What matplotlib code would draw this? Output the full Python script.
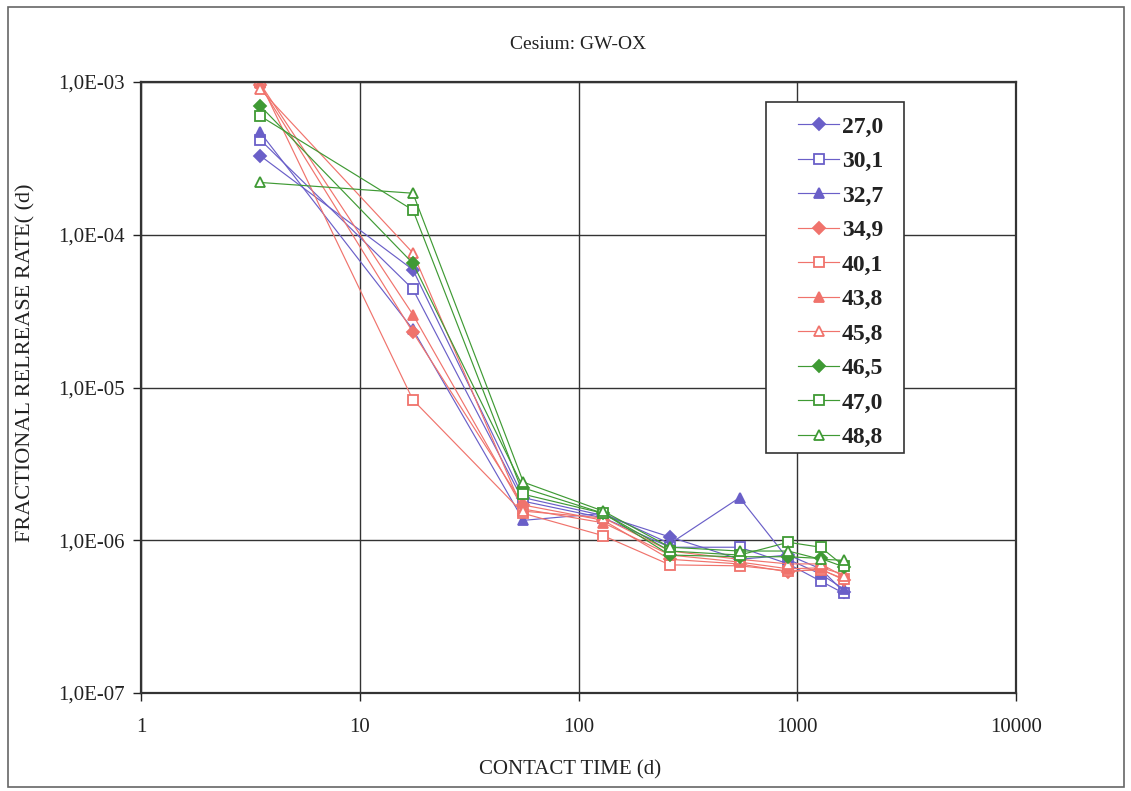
import numpy as np
import matplotlib.pyplot as plt
from matplotlib.patches import Rectangle
from matplotlib.ticker import FixedLocator, NullLocator

# contact times (d), shared by every sample
contact_time = [3.5, 17.5, 56, 130, 262, 545, 910, 1280, 1630]

labels = ['27,0', '30,1', '32,7', '34,9', '40,1', '43,8', '45,8', '46,5', '47,0', '48,8']

rate_270 = [3.3e-4, 5.9e-5, 1.9e-6, 1.45e-6, 1.05e-6, 7.5e-7, 8.0e-7, 6.5e-7, 4.6e-7]
rate_301 = [4.2e-4, 4.4e-5, 1.8e-6, 1.4e-6, 9.0e-7, 9.0e-7, 7.0e-7, 5.4e-7, 4.5e-7]
rate_327 = [4.7e-4, 2.4e-5, 1.35e-6, 1.5e-6, 9.5e-7, 1.9e-6, 7.5e-7, 6.0e-7, 4.8e-7]
rate_349 = [9.5e-4, 2.3e-5, 1.7e-6, 1.35e-6, 7.5e-7, 7.0e-7, 6.2e-7, 6.5e-7, 5.5e-7]
rate_401 = [1.0e-3, 8.3e-6, 1.5e-6, 1.07e-6, 6.9e-7, 6.8e-7, 6.3e-7, 6.4e-7, 5.6e-7]
rate_438 = [9.8e-4, 3.0e-5, 1.6e-6, 1.3e-6, 8.0e-7, 7.2e-7, 6.5e-7, 6.6e-7, 6.0e-7]
rate_458 = [9.0e-4, 7.6e-5, 1.55e-6, 1.4e-6, 8.5e-7, 7.5e-7, 7.0e-7, 7.0e-7, 5.8e-7]
rate_465 = [7.0e-4, 6.5e-5, 2.2e-6, 1.5e-6, 8.0e-7, 7.8e-7, 7.8e-7, 7.6e-7, 6.7e-7]
rate_470 = [6.0e-4, 1.45e-4, 2.0e-6, 1.5e-6, 8.5e-7, 8.0e-7, 9.7e-7, 9.0e-7, 6.8e-7]
rate_488 = [2.2e-4, 1.87e-4, 2.4e-6, 1.55e-6, 9.0e-7, 8.5e-7, 8.5e-7, 7.5e-7, 7.4e-7]

rates = [rate_270, rate_301, rate_327, rate_349, rate_401,
         rate_438, rate_458, rate_465, rate_470, rate_488]

blue = '#6a5fc8'
red = '#f0736c'
green = '#3f9a34'
styles = [(blue, 'D', True), (blue, 's', False), (blue, '^', True),
          (red, 'D', True), (red, 's', False), (red, '^', True), (red, '^', False),
          (green, 'D', True), (green, 's', False), (green, '^', False)]

plt.rcParams['font.family'] = 'Liberation Serif'

fig = plt.figure(figsize=(11.31, 7.91), dpi=100)
W, H = 1131., 791.
ax = fig.add_axes([141/W, 1 - 693/H, (1016-141)/W, (693-82)/H])

for y, lab, (c, m, filled) in zip(rates, labels, styles):
    ms = 6 if m == 'D' else 7.5
    ax.plot(contact_time, y, color=c, lw=0.85, marker=m, ms=ms,
            mfc=c if filled else 'white', mec=c, mew=1.3, label=lab)

ax.set_xscale('log')
ax.set_yscale('log')
ax.set_xlim(1, 10000)
ax.set_ylim(1e-7, 1e-3)
ax.xaxis.set_major_locator(FixedLocator([1, 10, 100, 1000, 10000]))
ax.yaxis.set_major_locator(FixedLocator([1e-7, 1e-6, 1e-5, 1e-4, 1e-3]))
ax.xaxis.set_minor_locator(NullLocator())
ax.yaxis.set_minor_locator(NullLocator())
ax.set_xticklabels(['1', '10', '100', '1000', '10000'])
ax.set_yticklabels(['1,0E-07', '1,0E-06', '1,0E-05', '1,0E-04', '1,0E-03'])
ax.tick_params(direction='out', length=6, width=1, labelsize=15, colors='#222222', pad=6)
ax.tick_params(axis='x', pad=12)
ax.grid(True, color='#333333', lw=1)
ax.set_axisbelow(True)
for s in ax.spines.values():
    s.set_color('#333333')
    s.set_linewidth(1.6)

ax.set_title('Cesium: GW-OX', fontsize=14, pad=24, color='#222222')
ax.set_xlabel('CONTACT TIME (d)', fontsize=15, color='#222222')
ax.xaxis.set_label_coords((570-141)/875., -(760-693)/611.)
ax.set_ylabel('FRACTIONAL RELREASE RATE( (d)', fontsize=16, color='#222222')
ax.yaxis.set_label_coords(-(141-35)/875., (693-363)/611.)

# legend entries without frame, white box drawn separately underneath
leg = ax.legend(loc='upper left', bbox_to_anchor=((798-141)/875., (693-116)/611.),
                frameon=False, borderaxespad=0, borderpad=0,
                prop={'size': 17, 'weight': 'bold'}, handlelength=1.75,
                labelspacing=0.55, handletextpad=0.1)
for t in leg.get_texts():
    t.set_color('#222222')
ax.add_patch(Rectangle((766/W, 1 - 453/H), 138/W, 351/H, transform=fig.transFigure,
                       facecolor='white', edgecolor='#333333', lw=1.2, zorder=4))

fig.patches.append(Rectangle((8/W, 1 - 787/H), 1116/W, 780/H, transform=fig.transFigure,
                             fill=False, edgecolor='#666666', lw=1.2))

fig.savefig('out.png', dpi=100)
